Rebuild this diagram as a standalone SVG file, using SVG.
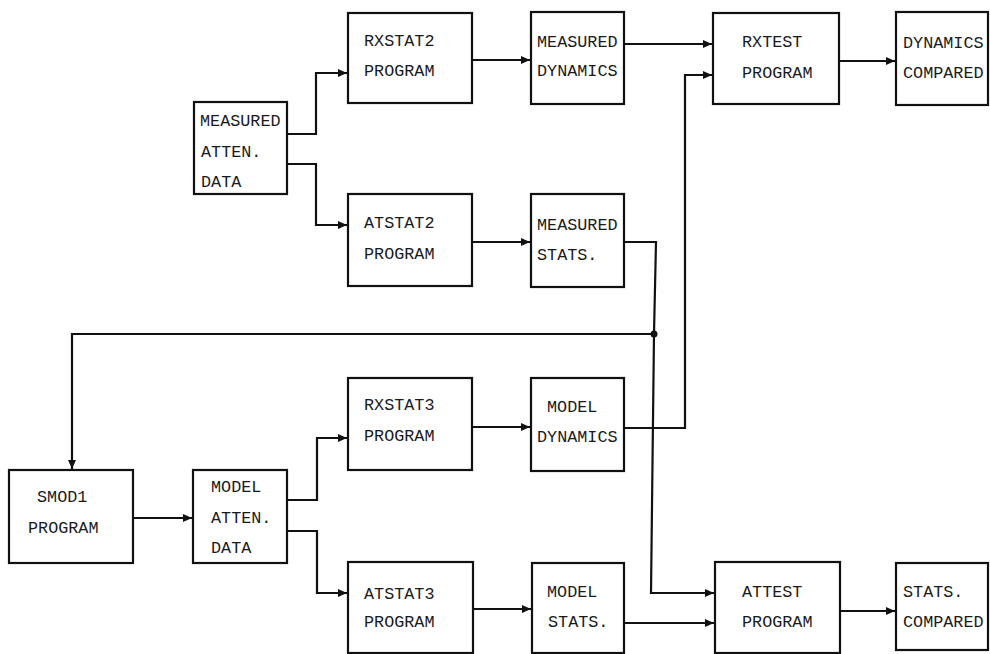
<svg xmlns="http://www.w3.org/2000/svg" width="990" height="654" viewBox="0 0 990 654">
<style>
.box{fill:#fff;stroke:#111;stroke-width:2.2}
.t{font-family:"Liberation Mono","Courier New",monospace;font-size:16.8px;fill:#1a1a1a}
.c{fill:none;stroke:#111;stroke-width:2.2}
</style>
<defs>
<marker id="ah" markerUnits="userSpaceOnUse" markerWidth="10" markerHeight="9" refX="9" refY="4.5" orient="auto">
<path d="M0,0.5 L9,4.5 L0,8.5 z" fill="#111"/>
</marker>
</defs>
<rect width="990" height="654" fill="#fff"/>
<g id="connectors">
<path class="c" d="M287,134 H316 V73 H347" marker-end="url(#ah)"/>
<path class="c" d="M287,164 H316 V225 H347" marker-end="url(#ah)"/>
<path class="c" d="M472,60 H530" marker-end="url(#ah)"/>
<path class="c" d="M473,242 H530" marker-end="url(#ah)"/>
<path class="c" d="M624,44 H712" marker-end="url(#ah)"/>
<path class="c" d="M839,61 H895" marker-end="url(#ah)"/>
<path class="c" d="M624,242 H656 L654,334 L651,593 H714" marker-end="url(#ah)"/>
<path class="c" d="M654,334 H72 V469" marker-end="url(#ah)"/>
<circle cx="654" cy="334" r="3.5" fill="#111"/>
<path class="c" d="M624,428 H685 V75 H712" marker-end="url(#ah)"/>
<path class="c" d="M133,518 H192" marker-end="url(#ah)"/>
<path class="c" d="M287,500 H317 V438 H347" marker-end="url(#ah)"/>
<path class="c" d="M287,531 H317 V593 H347" marker-end="url(#ah)"/>
<path class="c" d="M472,427 H530" marker-end="url(#ah)"/>
<path class="c" d="M473,609 H531" marker-end="url(#ah)"/>
<path class="c" d="M624,623 H714" marker-end="url(#ah)"/>
<path class="c" d="M840,611 H895" marker-end="url(#ah)"/>
</g>
<g id="measured_atten_data">
<rect class="box" x="194" y="102" width="93" height="92"/>
<text class="t" x="200" y="126">MEASURED</text>
<text class="t" x="201" y="157">ATTEN.</text>
<text class="t" x="201" y="187">DATA</text>
</g>
<g id="rxstat2">
<rect class="box" x="348" y="13" width="124" height="90"/>
<text class="t" x="364" y="46">RXSTAT2</text>
<text class="t" x="364" y="76">PROGRAM</text>
</g>
<g id="atstat2">
<rect class="box" x="348" y="194" width="124" height="92"/>
<text class="t" x="364" y="228">ATSTAT2</text>
<text class="t" x="364" y="259">PROGRAM</text>
</g>
<g id="measured_dynamics">
<rect class="box" x="531" y="12" width="93" height="92"/>
<text class="t" x="537" y="47">MEASURED</text>
<text class="t" x="537" y="76">DYNAMICS</text>
</g>
<g id="measured_stats">
<rect class="box" x="531" y="194" width="93" height="93"/>
<text class="t" x="537" y="230">MEASURED</text>
<text class="t" x="537" y="260">STATS.</text>
</g>
<g id="rxtest">
<rect class="box" x="713" y="13" width="126" height="91"/>
<text class="t" x="742" y="47">RXTEST</text>
<text class="t" x="742" y="78">PROGRAM</text>
</g>
<g id="dynamics_compared">
<rect class="box" x="896" y="12" width="92" height="93"/>
<text class="t" x="903" y="48">DYNAMICS</text>
<text class="t" x="903" y="78">COMPARED</text>
</g>
<g id="smod1">
<rect class="box" x="9" y="470" width="124" height="93"/>
<text class="t" x="37" y="502">SMOD1</text>
<text class="t" x="28" y="533">PROGRAM</text>
</g>
<g id="model_atten_data">
<rect class="box" x="193" y="470" width="94" height="93"/>
<text class="t" x="211" y="492">MODEL</text>
<text class="t" x="211" y="523">ATTEN.</text>
<text class="t" x="211" y="553">DATA</text>
</g>
<g id="rxstat3">
<rect class="box" x="348" y="378" width="124" height="92"/>
<text class="t" x="364" y="410">RXSTAT3</text>
<text class="t" x="364" y="441">PROGRAM</text>
</g>
<g id="atstat3">
<rect class="box" x="348" y="562" width="125" height="91"/>
<text class="t" x="364" y="599">ATSTAT3</text>
<text class="t" x="364" y="627">PROGRAM</text>
</g>
<g id="model_dynamics">
<rect class="box" x="531" y="378" width="93" height="93"/>
<text class="t" x="547" y="412">MODEL</text>
<text class="t" x="537" y="442">DYNAMICS</text>
</g>
<g id="model_stats">
<rect class="box" x="532" y="563" width="92" height="90"/>
<text class="t" x="547" y="597">MODEL</text>
<text class="t" x="548" y="627">STATS.</text>
</g>
<g id="attest">
<rect class="box" x="715" y="562" width="125" height="91"/>
<text class="t" x="742" y="597">ATTEST</text>
<text class="t" x="742" y="627">PROGRAM</text>
</g>
<g id="stats_compared">
<rect class="box" x="896" y="563" width="92" height="87"/>
<text class="t" x="903" y="597">STATS.</text>
<text class="t" x="903" y="627">COMPARED</text>
</g>
</svg>
